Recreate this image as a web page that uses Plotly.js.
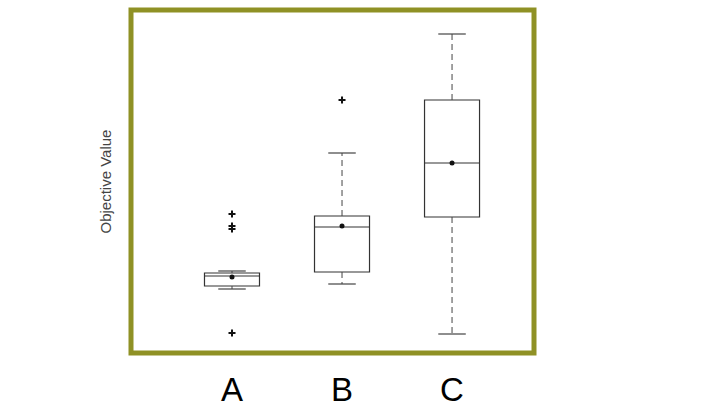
<!DOCTYPE html>
<html>
<head>
<script src="https://cdn.plot.ly/plotly-3.0.1.min.js"></script>
<style>body{margin:0;background:#fff}</style>
</head>
<body>
<div id="chart" style="width:716px;height:416px"></div>
<script>
const groups = ["A", "B", "C"];
const pos = [0, 1, 2];
const q1 = [67, 81, 136];
const med = [77, 126, 190];
const q3 = [80, 137, 253];
const lowW = [64, 69, 19];
const highW = [82, 200, 319];
const means = [76, 127, 190];
const outX = [0, 0, 0, 0, 1];
const outY = [139, 127, 124, 20, 253];

const capHalf = 0.125;
const traces = [];

// whiskers (dashed) and caps
pos.forEach((p, i) => {
  traces.push({
    x: [p, p, null, p, p], y: [q3[i], highW[i], null, q1[i], lowW[i]],
    type: "scatter", mode: "lines",
    line: { color: "#444", width: 1, dash: "6px,4px" }, hoverinfo: "skip"
  });
  traces.push({
    x: [p - capHalf, p + capHalf, null, p - capHalf, p + capHalf],
    y: [highW[i], highW[i], null, lowW[i], lowW[i]],
    type: "scatter", mode: "lines",
    line: { color: "#444", width: 1.2 }, hoverinfo: "skip"
  });
});

traces.push({
  type: "box", x: pos, q1: q1, median: med, q3: q3,
  lowerfence: q1, upperfence: q3,
  fillcolor: "rgba(0,0,0,0)", line: { color: "#333", width: 1.2 },
  width: 0.5, whiskerwidth: 0, hoverinfo: "skip"
});

traces.push({
  x: pos, y: means, type: "scatter", mode: "markers",
  marker: { color: "#111", size: 5 }
});
traces.push({
  x: outX, y: outY, type: "scatter", mode: "markers",
  marker: { color: "#111", size: 5, symbol: "cross-thin", line: { width: 2, color: "#111" } }
});

const layout = {
  width: 716, height: 416,
  margin: { l: 131, r: 182, t: 10, b: 63 },
  paper_bgcolor: "#fff", plot_bgcolor: "#fff",
  showlegend: false,
  xaxis: {
    range: [-0.918, 2.745], tickvals: pos, ticktext: groups,
    showgrid: false, zeroline: false, showline: false, ticks: "",
    ticklabelstandoff: 14,
    tickfont: { family: "Arial, Liberation Sans", size: 33, color: "#000" }
  },
  yaxis: {
    range: [0, 343], showgrid: false, zeroline: false, showticklabels: false, ticks: "",
    title: { text: "Objective Value", standoff: 14,
      font: { family: "Arial, Liberation Sans", size: 15, color: "#444" } }
  },
  shapes: [{
    type: "rect", xref: "paper", yref: "paper", x0: 0, x1: 1, y0: 0, y1: 1,
    line: { color: "#8f9125", width: 5 }
  }]
};

Plotly.newPlot("chart", traces, layout, { displayModeBar: false, staticPlot: true });
</script>
</body>
</html>
